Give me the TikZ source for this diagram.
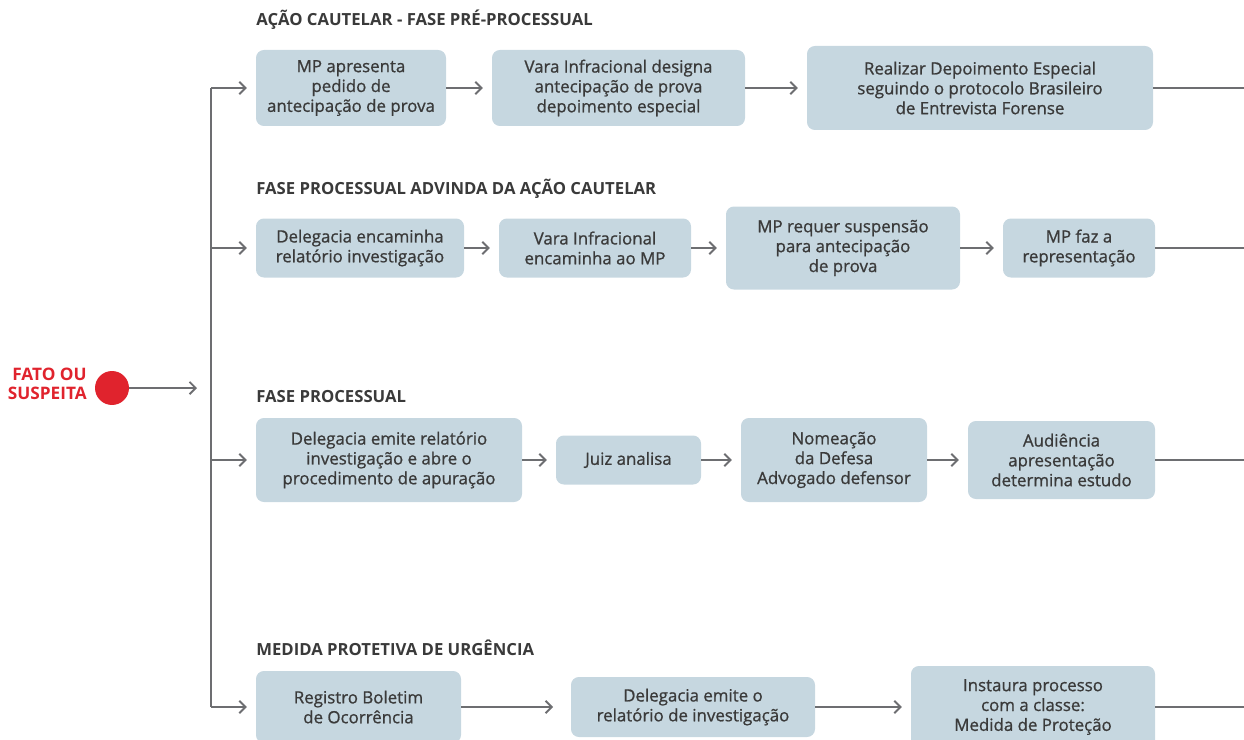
\documentclass[tikz,border=0pt]{standalone}
\usepackage{fontspec}
\setmainfont{Open Sans}
\newfontfamily\semibold[FakeBold=0.9]{Open Sans}
\usetikzlibrary{arrows.meta}

\definecolor{boxblue}{HTML}{C6D7E0}
\definecolor{flowgray}{HTML}{6D6E71}
\definecolor{textgray}{HTML}{3A3A3A}
\definecolor{alertred}{HTML}{E0232D}

% etapa: nome, x esquerdo, x direito, altura, y da linha, texto
\newcommand{\etapa}[6]{%
  \node[stepbox, minimum width={(#3-#2)*0.02cm}, minimum height={#4*0.02cm}]
    (#1) at ({(#2+#3)/2},#5) {#6};}

\begin{document}
\begin{tikzpicture}[x=0.02cm,y=-0.02cm,
    stepbox/.style={fill=boxblue, rounded corners=4.5pt, inner sep=0pt,
      align=center, text=textgray,
      font=\semibold\fontsize{9.6}{11.3}\selectfont},
    titulo/.style={anchor=west, inner sep=0pt, text=textgray,
      font=\bfseries\fontsize{9.5}{10}\selectfont},
    fluxo/.style={draw=flowgray, line width=1.1pt,
      -{Straight Barb[length=3.5pt,width=7pt]}, shorten >=5pt},
    linha/.style={draw=flowgray, line width=1.1pt}]
    \useasboundingbox (0,0) rectangle (1244,740);
    \def\ya{88}\def\yb{248}\def\yc{460}\def\yd{707}
    % ponto de partida
    \node[circle, fill=alertred, minimum size=0.68cm, inner sep=0pt] (fato) at (112,388) {};
    \node[anchor=east, align=right, inner sep=0pt, text=alertred,
      font=\bfseries\fontsize{9.8}{11.05}\selectfont] (fatotxt) at (87,384) {FATO OU\\SUSPEITA};
    \coordinate (ramo) at (197,388);
    \draw[fluxo, shorten >=0pt] (fato) -- (ramo);
    % tronco vertical
    \coordinate (ta) at (211,\ya);
    \coordinate (tb) at (211,\yb);
    \coordinate (tc) at (211,\yc);
    \coordinate (td) at (211,\yd);
    \draw[linha] (ta) -- (td);
    % titulos
    \node[titulo] (ha) at (256,19.5) {AÇÃO CAUTELAR - FASE PRÉ-PROCESSUAL};
    \node[titulo] (hb) at (256,188.5) {FASE PROCESSUAL ADVINDA DA AÇÃO CAUTELAR};
    \node[titulo] (hc) at (256,396.5) {FASE PROCESSUAL};
    \node[titulo] (hd) at (256,647.5) {MEDIDA PROTETIVA DE URGÊNCIA};
    % linha 1
    \etapa{a1}{256}{446}{76}{\ya}{MP apresenta\\pedido de\\antecipação de prova}
    \etapa{a2}{492}{745}{76}{\ya}{Vara Infracional designa\\antecipação de prova\\depoimento especial}
    \etapa{a3}{807}{1153}{84}{\ya}{Realizar Depoimento Especial\\seguindo o protocolo Brasileiro\\de Entrevista Forense}
    % linha 2
    \etapa{b1}{256}{464}{59}{\yb}{Delegacia encaminha\\relatório investigação}
    \etapa{b2}{499}{691}{59}{\yb}{Vara Infracional\\encaminha ao MP}
    \etapa{b3}{726}{960}{83}{\yb}{MP requer suspensão\\para antecipação\\de prova}
    \etapa{b4}{1003}{1155}{59}{\yb}{MP faz a\\representação}
    % linha 3
    \etapa{c1}{256}{522}{84}{\yc}{Delegacia emite relatório\\investigação e abre o\\procedimento de apuração}
    \etapa{c2}{556}{701}{49}{\yc}{Juiz analisa}
    \etapa{c3}{741}{927}{84}{\yc}{Nomeação\\da Defesa\\Advogado defensor}
    \etapa{c4}{968}{1155}{78}{\yc}{Audiência\\apresentação\\determina estudo}
    % linha 4
    \etapa{d1}{256}{461}{72}{\yd}{Registro Boletim\\de Ocorrência}
    \etapa{d2}{571}{815}{60}{\yd}{Delegacia emite o\\relatório de investigação}
    \etapa{d3}{911}{1155}{82}{\yd}{Instaura processo\\com a classe:\\Medida de Proteção}
    % ramos do tronco
    \foreach \t/\b in {ta/a1,tb/b1,tc/c1,td/d1}
      \draw[fluxo] (\t) -- (\b);
    % setas entre etapas
    \foreach \a/\b in {a1/a2,a2/a3,b1/b2,b2/b3,b3/b4,c1/c2,c2/c3,c3/c4,d2/d3}
      \draw[fluxo] (\a) -- (\b);
    \draw[fluxo, shorten >=10pt] (d1) -- (d2);
    % saidas a direita
    \coordinate (sa) at (1244,\ya);
    \coordinate (sb) at (1244,\yb);
    \coordinate (sc) at (1244,\yc);
    \coordinate (sd) at (1244,\yd);
    \foreach \a/\s in {a3/sa,b4/sb,c4/sc,d3/sd}
      \draw[linha] (\a) -- (\s);
\end{tikzpicture}
\end{document}
